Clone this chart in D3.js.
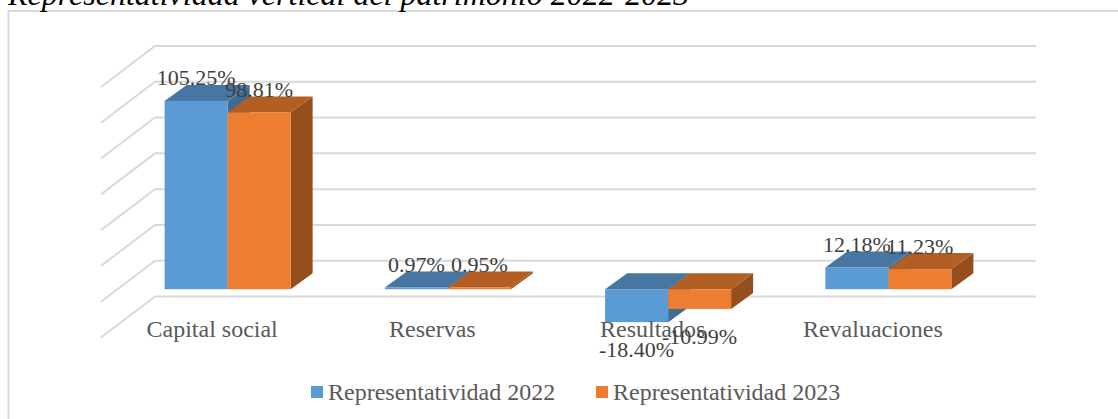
<!DOCTYPE html>
<html>
<head>
<meta charset="utf-8">
<script src="https://d3js.org/d3.v7.min.js"></script>
<style>
  html, body { margin: 0; padding: 0; background: #fff; overflow: hidden; }
  svg { display: block; }
  text { font-family: "Liberation Serif", serif; }
</style>
</head>
<body>
<div class="chart"></div>
<script>
const categories = ['Capital social', 'Reservas', 'Resultados', 'Revaluaciones'];
const seriesNames = ['Representatividad 2022', 'Representatividad 2023'];
const values2022 = [105.25, 0.97, -18.40, 12.18];
const values2023 = [98.81, 0.95, -10.99, 11.23];
const yTicks = [-20, 0, 20, 40, 60, 80, 100, 120];

const faceColors = [
  { front: '#5b9bd5', top: '#4676a1', side: '#3f6b94' },
  { front: '#ed7d31', top: '#b35e22', side: '#954f1c' }
];

const chartWidth = 1118;
const chartHeight = 419;

// floor of the 3d box, back wall to front edge
const floor = { dx: 54, dy: 41 };
// where the bars stand on that floor
const barFront = { dx: 37.5, dy: 28.5 };
const barDepth = { dx: 22, dy: 16 };
const barWidth = 63;

const svg = d3.select('.chart')
  .append('svg')
  .attr('width', chartWidth)
  .attr('height', chartHeight);

// frame has no right or bottom edge in view
svg.append('path')
  .attr('d', d3.line()([[8.5, chartHeight], [8.5, 11], [chartWidth, 11]]))
  .attr('fill', 'none')
  .attr('stroke', '#d9d9d9')
  .attr('stroke-width', 2);

svg.append('text')
  .attr('x', 8)
  .attr('y', 5)
  .attr('font-size', '32px')
  .attr('font-style', 'italic')
  .attr('fill', '#000')
  .text('Representatividad vertical del patrimonio 2022-2023');

const xScale = d3.scaleBand()
  .domain(categories)
  .range([155, 1036]);

const yScale = d3.scaleLinear()
  .domain([-20, 120])
  .range([296.5, 46]);

const grid = svg.append('g')
  .attr('fill', 'none')
  .attr('stroke', '#d9d9d9')
  .attr('stroke-width', 2);

grid.selectAll('path')
  .data(yTicks)
  .enter()
  .append('path')
  .attr('d', d => d3.line()([
    [xScale.range()[0] - floor.dx, yScale(d) + floor.dy],
    [xScale.range()[0], yScale(d)],
    [xScale.range()[1], yScale(d)]
  ]));

const toPoints = pts => pts.map(p => p.join(',')).join(' ');

const bars = [];
categories.forEach((c, i) => {
  [values2022, values2023].forEach((vals, s) => {
    const x = xScale(c) + xScale.bandwidth() / 2 - barFront.dx + (s - 1) * barWidth;
    const yZero = yScale(0) + barFront.dy;
    const yValue = yScale(vals[i]) + barFront.dy;
    bars.push({
      value: vals[i],
      s,
      x,
      x1: x + barWidth,
      yTop: Math.min(yZero, yValue),
      yBottom: Math.max(yZero, yValue)
    });
  });
});

const barGroups = svg.append('g')
  .selectAll('g')
  .data(bars)
  .enter()
  .append('g');

barGroups.append('polygon')
  .attr('fill', d => faceColors[d.s].side)
  .attr('points', d => toPoints([
    [d.x1, d.yTop],
    [d.x1 + barDepth.dx, d.yTop - barDepth.dy],
    [d.x1 + barDepth.dx, d.yBottom - barDepth.dy],
    [d.x1, d.yBottom]
  ]));

barGroups.append('polygon')
  .attr('fill', d => faceColors[d.s].top)
  .attr('points', d => toPoints([
    [d.x, d.yTop],
    [d.x + barDepth.dx, d.yTop - barDepth.dy],
    [d.x1 + barDepth.dx, d.yTop - barDepth.dy],
    [d.x1, d.yTop]
  ]));

barGroups.append('rect')
  .attr('x', d => d.x)
  .attr('y', d => d.yTop)
  .attr('width', barWidth)
  .attr('height', d => d.yBottom - d.yTop)
  .attr('fill', d => faceColors[d.s].front);

// category labels sit along the front edge of the floor
const xAxis = d3.axisBottom(xScale).tickSize(0).tickPadding(0);
const xAxisElement = svg.append('g')
  .attr('transform', `translate(${-floor.dx + 1}, 320)`)
  .call(xAxis);
xAxisElement.select('.domain').remove();
xAxisElement.selectAll('text')
  .attr('font-family', '"Liberation Serif", serif')
  .attr('font-size', '24px')
  .attr('fill', '#595959');

svg.append('g')
  .selectAll('text')
  .data(bars)
  .enter()
  .append('text')
  .attr('x', d => d.x + barWidth / 2)
  .attr('y', d => d.value < 0 ? d.yBottom + 35 : d.yTop - 15.5)
  .attr('text-anchor', 'middle')
  .attr('font-size', '22px')
  .attr('fill', '#404040')
  .text(d => d.value.toFixed(2) + '%');

const legendX = d3.scalePoint()
  .domain(seriesNames)
  .range([311, 596]);

const legend = svg.append('g')
  .selectAll('g')
  .data(seriesNames)
  .enter()
  .append('g')
  .attr('transform', d => `translate(${legendX(d)}, 386)`);

legend.append('rect')
  .attr('width', 12)
  .attr('height', 12)
  .attr('fill', (d, i) => faceColors[i].front);

legend.append('text')
  .attr('x', 17)
  .attr('y', 14)
  .attr('font-size', '24px')
  .attr('fill', '#595959')
  .text(d => d);
</script>
</body>
</html>
